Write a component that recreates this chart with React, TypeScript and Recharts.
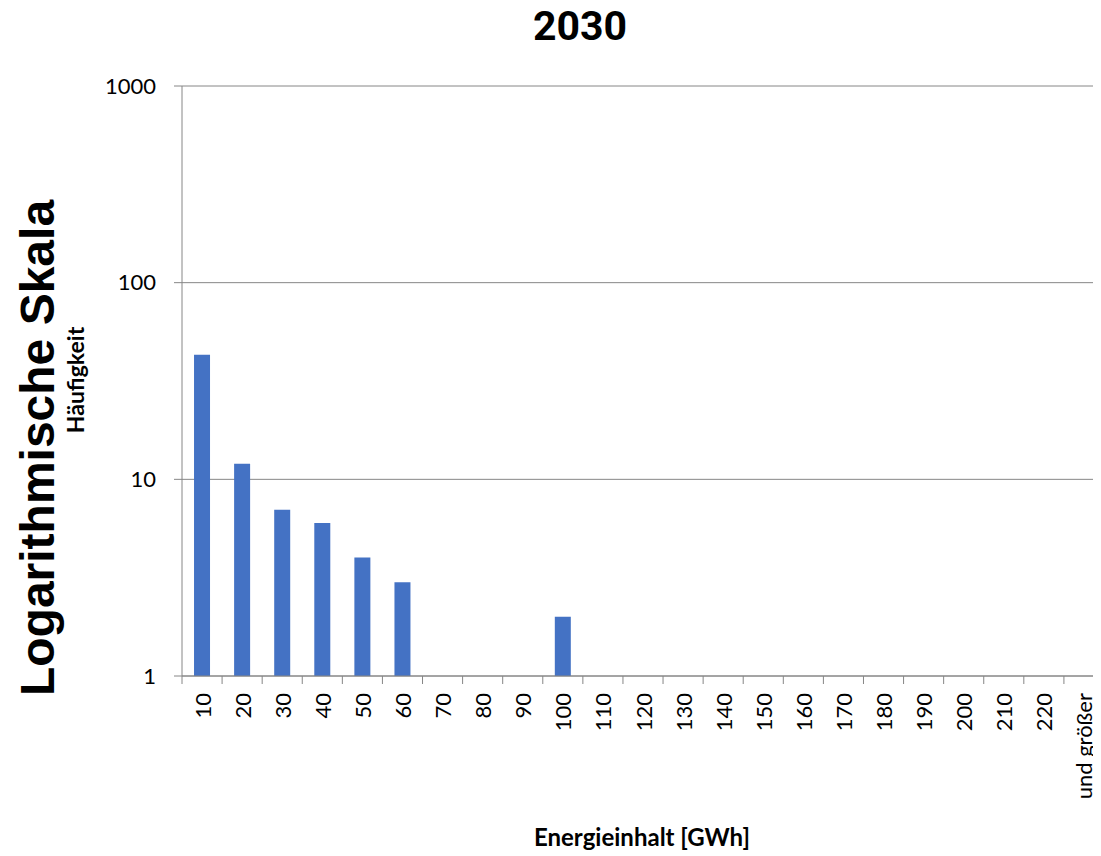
import React from "react";
import { BarChart, Bar, XAxis, YAxis, CartesianGrid } from "recharts";

// Energieinhalt classes (GWh) and counts (log scale)
const classes = [
  "10", "20", "30", "40", "50", "60", "70", "80", "90", "100", "110", "120",
  "130", "140", "150", "160", "170", "180", "190", "200", "210", "220", "und größer",
];
const counts: (number | null)[] = [
  43, 12, 7, 6, 4, 3, null, null, null, 2, null, null,
  null, null, null, null, null, null, null, null, null, null, null,
];
const yTicks = [1, 10, 100, 1000];

const data = classes.map((c, i) => ({ cls: c, count: counts[i] }));

const W = 1101;
const H = 848;
const M = { top: 78, right: 5, bottom: 0, left: 0 };
const Y_AXIS_W = 174;
const X_AXIS_H = 180;
const HALF_BAND = (W - M.left - M.right - Y_AXIS_W) / classes.length / 2;

const GREY = "#868686";
const FONT = "Lato, 'Noto Sans', sans-serif";

const XTick = (props: any) => {
  const { x, y, payload, index } = props;
  const top = y - 17;
  const bottom = y - 9;
  return (
    <g>
      <line x1={x - HALF_BAND} x2={x - HALF_BAND} y1={top} y2={bottom} stroke={GREY} />
      {index === classes.length - 1 && (
        <line x1={x + HALF_BAND} x2={x + HALF_BAND} y1={top} y2={bottom} stroke={GREY} />
      )}
      <text
        x={x}
        y={y}
        transform={`rotate(-90, ${x}, ${y})`}
        textAnchor="end"
        dominantBaseline="central"
        fontSize={22}
        fontFamily={FONT}
        fill="#000"
      >
        {payload.value}
      </text>
    </g>
  );
};

export default function App() {
  return (
    <div style={{ position: "relative", width: W, height: H }}>
      <BarChart width={W} height={H} data={data} margin={M} barCategoryGap="30%">
        <CartesianGrid vertical={false} stroke={GREY} />
        <XAxis
          dataKey="cls"
          interval={0}
          height={X_AXIS_H}
          tickSize={8}
          tickMargin={9}
          tickLine={false}
          axisLine={{ stroke: GREY }}
          tick={<XTick />}
        />
        <YAxis
          scale="log"
          domain={[1, 1000]}
          ticks={yTicks}
          allowDataOverflow
          width={Y_AXIS_W}
          tickSize={8}
          tickMargin={18}
          tickLine={{ stroke: GREY }}
          axisLine={{ stroke: GREY }}
          tick={{ fontSize: 22, fill: "#000", fontFamily: FONT }}
        />
        <Bar dataKey="count" fill="#4472C4" isAnimationActive={false} />
      </BarChart>
      {/* titles, positioned in page pixels (svg starts at the page top) */}
      <svg
        width={W}
        height={H + 8}
        style={{ position: "absolute", left: -8, top: -8, pointerEvents: "none" }}
      >
        <text x={580} y={40} textAnchor="middle" fontSize={41} fontWeight="bold" fontFamily="Roboto, sans-serif">
          2030
        </text>
        <text x={642} y={846} textAnchor="middle" fontSize={24} fontWeight="bold" fontFamily={FONT}>
          Energieinhalt [GWh]
        </text>
        <text
          x={84}
          y={380}
          transform="rotate(-90, 84, 380)"
          textAnchor="middle"
          fontSize={23}
          fontWeight="bold"
          fontFamily={FONT}
        >
          Häufigkeit
        </text>
        <text
          x={54}
          y={448}
          transform="rotate(-90, 54, 448)"
          textAnchor="middle"
          fontSize={48}
          fontWeight="bold"
          fontFamily="'Liberation Sans', Arial, sans-serif"
        >
          Logarithmische Skala
        </text>
      </svg>
    </div>
  );
}
